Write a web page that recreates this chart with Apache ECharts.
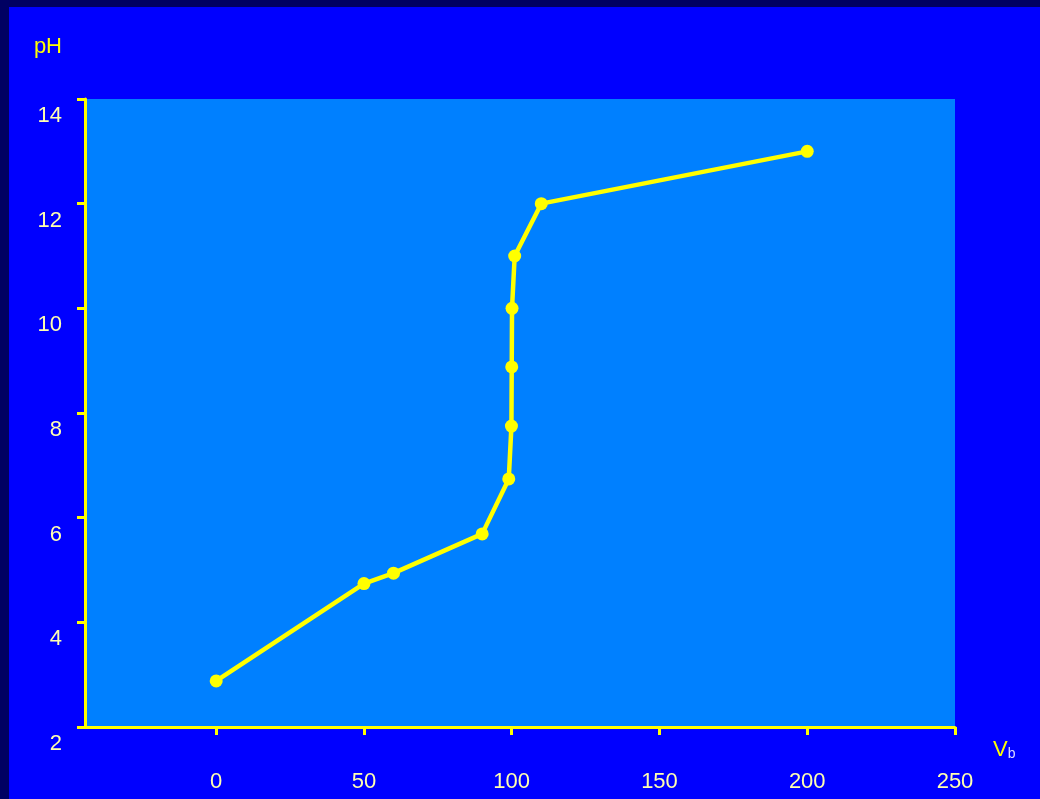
<!DOCTYPE html>
<html>
<head>
<meta charset="utf-8">
<script src="https://cdn.jsdelivr.net/npm/echarts@6/dist/echarts.min.js"></script>
<style>
  html, body { margin: 0; padding: 0; width: 1040px; height: 799px; background: #000062; overflow: hidden; }
  #chart { position: absolute; left: 9px; top: 7px; width: 1031px; height: 792px; }
</style>
</head>
<body>
<div id="chart"></div>
<script>
const volume = [0, 50, 60, 90, 99, 99.9, 100, 100.1, 101, 110, 200];
const pHValues = [2.88, 4.74, 4.94, 5.69, 6.74, 7.75, 8.88, 10.0, 11.0, 12.0, 13.0];
const xTicks = [0, 50, 100, 150, 200, 250];
const yTicks = [2, 4, 6, 8, 10, 12, 14];

const chart = echarts.init(document.getElementById('chart'));
const yellow = '#FFFF00';
const labelColor = '#FFFFB0';
const font = '"Liberation Sans", Arial, sans-serif';

chart.setOption({
  backgroundColor: '#0000FF',
  animation: false,
  grid: {
    left: 76, right: 85, top: 92, bottom: 72,
    show: true, backgroundColor: '#0080FF', borderWidth: 0
  },
  xAxis: {
    type: 'value',
    min: -44.4, max: 250,
    splitLine: { show: false },
    axisLine: { show: true, onZero: false, lineStyle: { color: yellow, width: 3 } },
    axisTick: { show: true, length: 8, lineStyle: { color: yellow, width: 3 }, customValues: xTicks },
    axisLabel: { color: labelColor, fontSize: 22, fontFamily: font, margin: 44, customValues: xTicks },
    name: '{v|V}{b|b}',
    nameLocation: 'end',
    nameGap: 38,
    nameTextStyle: {
      verticalAlign: 'top', padding: [12, 0, 0, 0],
      rich: {
        v: { color: yellow, fontSize: 22, fontFamily: font },
        b: { color: '#DDDDFF', fontSize: 14, fontFamily: font, verticalAlign: 'bottom', padding: [8, 0, 0, 0] }
      }
    }
  },
  yAxis: {
    type: 'value',
    min: 2, max: 14, interval: 2,
    splitLine: { show: false },
    axisLine: { show: true, onZero: false, lineStyle: { color: yellow, width: 3 } },
    axisTick: { show: true, length: 8, lineStyle: { color: yellow, width: 3 } },
    axisLabel: {
      color: labelColor, fontSize: 22, fontFamily: font, margin: 23,
      verticalAlign: 'top', padding: [6, 0, 0, 0],
      customValues: yTicks
    },
    name: 'pH',
    nameLocation: 'end',
    nameGap: 52,
    nameTextStyle: {
      color: yellow, fontSize: 22, fontFamily: font,
      align: 'right', verticalAlign: 'middle', padding: [0, 23, 0, 0]
    }
  },
  series: [{
    type: 'line',
    data: volume.map((v, i) => [v, pHValues[i]]),
    symbol: 'circle',
    symbolSize: 13,
    lineStyle: { color: yellow, width: 4.5 },
    itemStyle: { color: yellow },
    z: 3
  }]
});
</script>
</body>
</html>
